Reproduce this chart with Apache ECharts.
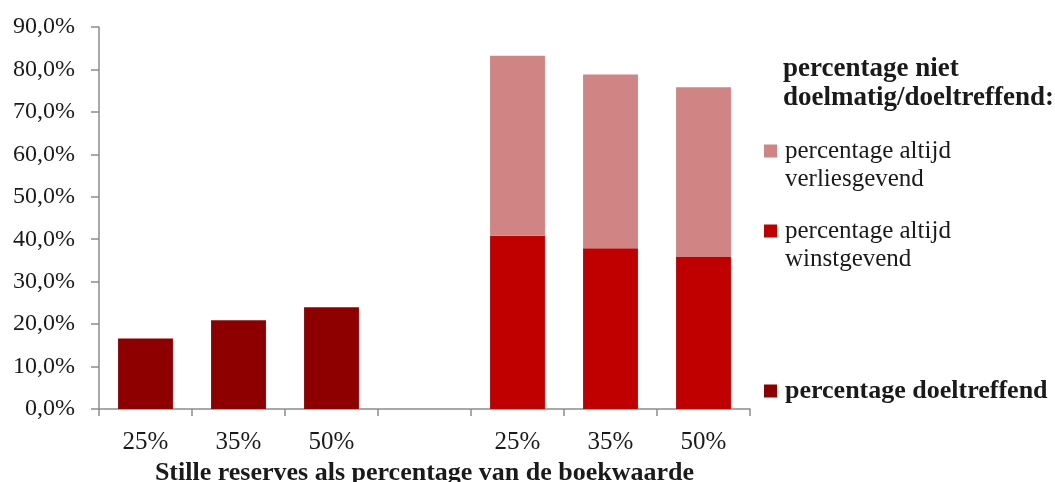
<!DOCTYPE html>
<html>
<head>
<meta charset="utf-8">
<script src="https://cdn.jsdelivr.net/npm/echarts@6/dist/echarts.min.js"></script>
<style>
  html, body { margin: 0; padding: 0; background: #fff; }
  #chart { width: 1055px; height: 482px; }
</style>
</head>
<body>
<div id="chart"></div>
<script>
// categorieen: links doeltreffend, rechts niet doelmatig/doeltreffend
const categories = ['25%', '35%', '50%', '', '25%', '35%', '50%'];
const doeltreffend = [16.6, 20.9, 24.0, null, null, null, null];
const winstgevend = [null, null, null, null, 40.8, 37.9, 35.8];
const verliesgevend = [null, null, null, null, 42.4, 40.9, 40.0];
const yTicks = { min: 0, max: 90, interval: 10 };

const font = 'Liberation Serif';
const textColor = '#1a1a1a';
const axisColor = '#8c8c8c';

const chart = echarts.init(document.getElementById('chart'));

function legendBox (name, top, bold) {
  return {
    data: [{ name: name, icon: 'rect' }],
    left: 764,
    top: top,
    padding: 0,
    orient: 'vertical',
    itemWidth: 13,
    itemHeight: 13,
    selectedMode: false,
    // lege eerste regel zodat de eerste tekstregel naast het blokje staat
    formatter: n => (bold ? n : '\n' + n),
    textStyle: {
      fontFamily: font,
      fontSize: bold ? 26 : 25,
      color: textColor,
      fontWeight: bold ? 'bold' : 'normal',
      lineHeight: 28,
      padding: [0, 0, 0, 3]
    }
  };
}

chart.setOption({
  animation: false,
  grid: { left: 99, right: 305, top: 27, bottom: 73, outerBoundsMode: 'none' },
  legend: [
    legendBox('percentage altijd\nverliesgevend', 109, false),
    legendBox('percentage altijd\nwinstgevend', 189, false),
    legendBox('percentage doeltreffend', 377, true)
  ],
  graphic: [{
    type: 'text',
    left: 783,
    top: 55,
    style: {
      text: 'percentage niet\ndoelmatig/doeltreffend:',
      fontFamily: font,
      fontSize: 27,
      fontWeight: 'bold',
      lineHeight: 29,
      fill: textColor
    }
  }],
  xAxis: {
    type: 'category',
    data: categories,
    name: 'Stille reserves als percentage van de boekwaarde',
    nameLocation: 'middle',
    nameGap: 47,
    nameTextStyle: { fontFamily: font, fontSize: 26, fontWeight: 'bold', color: textColor },
    axisLine: { lineStyle: { color: axisColor, width: 1.5 } },
    axisTick: { show: true, length: 7, lineStyle: { color: axisColor, width: 1.5 } },
    axisLabel: { fontFamily: font, fontSize: 25, color: textColor, margin: 21, interval: 0 }
  },
  yAxis: {
    type: 'value',
    min: yTicks.min,
    max: yTicks.max,
    interval: yTicks.interval,
    splitLine: { show: false },
    axisLine: { show: true, lineStyle: { color: axisColor, width: 1.5 } },
    axisTick: { show: true, length: 8, lineStyle: { color: axisColor, width: 1.5 } },
    axisLabel: {
      fontFamily: font,
      fontSize: 24,
      color: textColor,
      margin: 24,
      formatter: v => v.toFixed(1).replace('.', ',') + '%'
    }
  },
  series: [
    {
      name: 'percentage doeltreffend',
      type: 'bar',
      stack: 'totaal',
      barWidth: '59%',
      itemStyle: { color: '#8e0000' },
      data: doeltreffend
    },
    {
      name: 'percentage altijd\nwinstgevend',
      type: 'bar',
      stack: 'totaal',
      itemStyle: { color: '#c00000' },
      data: winstgevend
    },
    {
      name: 'percentage altijd\nverliesgevend',
      type: 'bar',
      stack: 'totaal',
      itemStyle: { color: '#d08484' },
      data: verliesgevend
    }
  ]
});
</script>
</body>
</html>
